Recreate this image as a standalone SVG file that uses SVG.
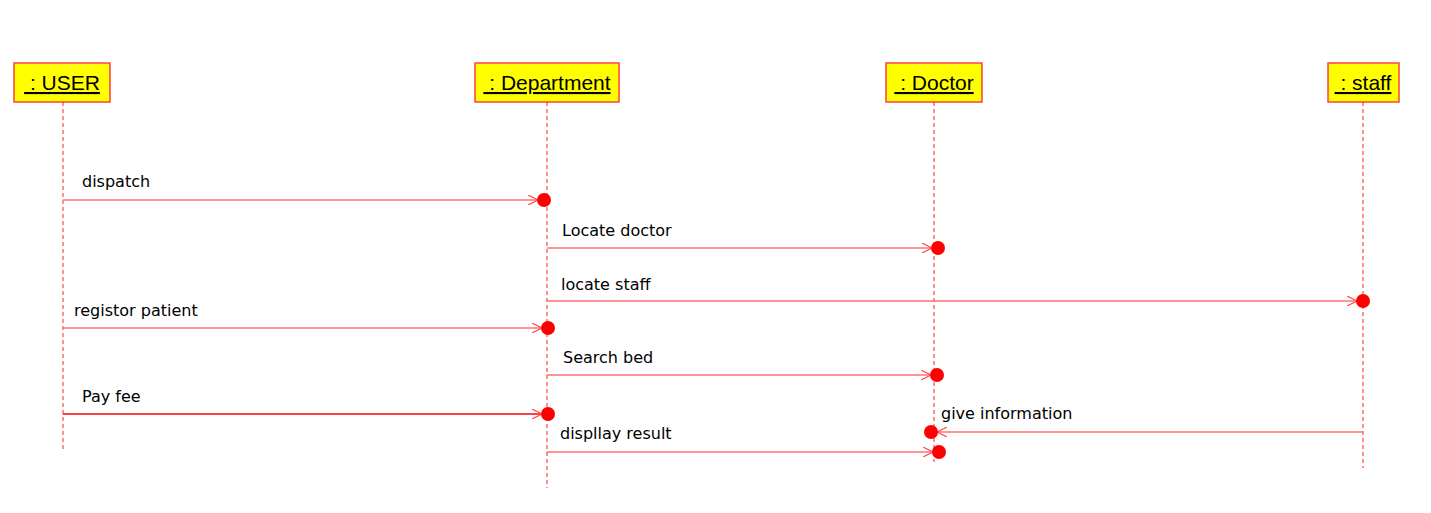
<svg xmlns="http://www.w3.org/2000/svg" width="1431" height="513" viewBox="0 0 1431 513">
<style>
.box{fill:#ffff00;stroke:#ff4040;stroke-width:1.5}
.hd{font-family:"Liberation Sans",Arial,sans-serif;font-size:21px;fill:#000;text-decoration:underline;white-space:pre}
.life{stroke:#ff2020;stroke-width:1;stroke-dasharray:4,3;fill:none}
.msg{stroke:#ff7070;stroke-width:1.3;fill:none}
.lbl{font-family:"DejaVu Sans",Verdana,sans-serif;font-size:16px;fill:#000}
.dot{fill:#ff0000}
</style>
<defs>
<marker id="ah" viewBox="0 0 10 10" refX="10" refY="5" markerWidth="10" markerHeight="10" markerUnits="userSpaceOnUse" orient="auto">
<path d="M0,0 L10,5 L0,10" fill="none" stroke="#ff5050" stroke-width="1.2"/>
</marker>
</defs>
<g id="user">
<rect class="box" x="14" y="63" width="96" height="39"/>
<text class="hd" x="62" y="90" text-anchor="middle" xml:space="preserve"> : USER</text>
<line class="life" x1="63" y1="102" x2="63" y2="451"/>
</g>
<g id="department">
<rect class="box" x="475" y="63" width="144" height="39"/>
<text class="hd" x="547" y="90" text-anchor="middle" xml:space="preserve"> : Department</text>
<line class="life" x1="547" y1="102" x2="547" y2="488"/>
</g>
<g id="doctor">
<rect class="box" x="886" y="63" width="96" height="39"/>
<text class="hd" x="934" y="90" text-anchor="middle" xml:space="preserve"> : Doctor</text>
<line class="life" x1="934" y1="102" x2="934" y2="462"/>
</g>
<g id="staff">
<rect class="box" x="1328" y="63" width="71" height="39"/>
<text class="hd" x="1363" y="90" text-anchor="middle" xml:space="preserve"> : staff</text>
<line class="life" x1="1363" y1="102" x2="1363" y2="468"/>
</g>
<g id="connectors">
<line class="msg" x1="63" y1="200" x2="538" y2="200" marker-end="url(#ah)"/>
<circle class="dot" cx="544" cy="200" r="7"/>
<text class="lbl" x="82" y="187">dispatch</text>

<line class="msg" x1="547" y1="248" x2="932" y2="248" marker-end="url(#ah)"/>
<circle class="dot" cx="938" cy="248" r="7"/>
<text class="lbl" x="562" y="236">Locate doctor</text>

<line class="msg" x1="547" y1="301" x2="1357" y2="301" marker-end="url(#ah)"/>
<circle class="dot" cx="1363" cy="301" r="7"/>
<text class="lbl" x="561" y="290">locate staff</text>

<line class="msg" x1="63" y1="328" x2="542" y2="328" marker-end="url(#ah)"/>
<circle class="dot" cx="548" cy="328" r="7"/>
<text class="lbl" x="74" y="316">registor patient</text>

<line class="msg" x1="547" y1="375" x2="931" y2="375" marker-end="url(#ah)"/>
<circle class="dot" cx="937" cy="375" r="7"/>
<text class="lbl" x="563" y="363">Search bed</text>

<line x1="63" y1="414" x2="542" y2="414" stroke="#ff0000" stroke-width="1.3" marker-end="url(#ah)"/>
<circle class="dot" cx="548" cy="414" r="7"/>
<text class="lbl" x="82" y="402">Pay fee</text>

<line class="msg" x1="1363" y1="432" x2="937" y2="432" marker-end="url(#ah)"/>
<circle class="dot" cx="931" cy="432" r="7"/>
<text class="lbl" x="941" y="419">give information</text>

<line class="msg" x1="547" y1="452" x2="933" y2="452" marker-end="url(#ah)"/>
<circle class="dot" cx="939" cy="452" r="7"/>
<text class="lbl" x="560" y="439">displlay result</text>
</g>
</svg>
